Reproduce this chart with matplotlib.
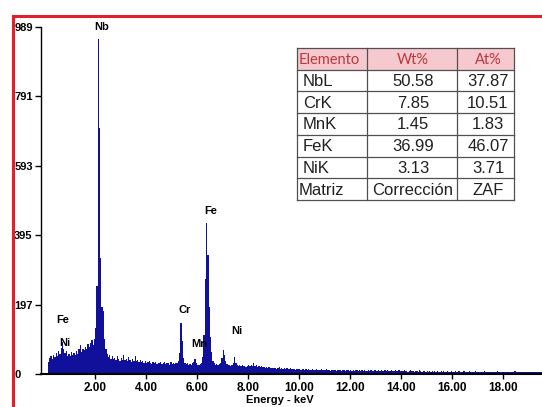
import numpy as np
import matplotlib
matplotlib.use('Agg')
import matplotlib.pyplot as plt
from matplotlib.lines import Line2D
from matplotlib.patches import Rectangle

plt.rcParams['font.family'] = ['Liberation Sans', 'DejaVu Sans']

# EDS spectrum, 0.05 keV channels starting at 0.15 keV
e_start = 0.15
e_width = 0.05
counts = [
    35, 45, 50, 42, 55, 48, 60, 52, 66, 58, 75, 90, 72, 60, 66, 52, 58,           # 0.15-0.95
    50, 62, 55, 60, 54, 66, 58, 70, 82, 64, 72, 68, 78, 70, 85, 76, 88, 96, 84, 100,  # 1
    130, 250, 955, 700, 330, 190, 180, 100, 70, 58, 48, 55, 44, 50, 42, 47, 40, 52, 43, 38,  # 2
    46, 41, 54, 39, 44, 37, 48, 40, 35, 43, 38, 50, 36, 41, 34, 39, 33, 37, 31, 36,  # 3
    30, 34, 38, 31, 29, 33, 30, 35, 28, 32, 30, 34, 29, 31, 35, 28, 32, 30, 27, 33,  # 4
    29, 31, 28, 32, 30, 36, 60, 145, 95, 45, 32, 28, 30, 26, 29, 27, 30, 34, 44, 30,  # 5
    27, 25, 28, 32, 48, 110, 270, 430, 340, 190, 105, 62, 38, 30, 27, 29, 25, 28, 32, 45,  # 6
    68, 55, 36, 28, 25, 27, 24, 26, 30, 48, 32, 26, 24, 27, 23, 25, 22, 24, 21, 23,  # 7
    25, 22, 27, 24, 30, 23, 26, 21, 24, 20, 22, 19, 21, 18, 20, 17, 19, 16, 18, 17,  # 8
    16, 18, 15, 17, 19, 14, 16, 15, 17, 14, 16, 13, 15, 17, 14, 13, 15, 12, 14, 13,  # 9
    14, 12, 13, 15, 11, 13, 12, 14, 11, 12, 13, 10, 12, 14, 11, 12, 10, 13, 11, 12,  # 10
    11, 13, 10, 12, 9, 11, 12, 10, 11, 9, 12, 10, 11, 9, 10, 12, 9, 10, 11, 9,  # 11
    10, 9, 11, 8, 10, 12, 9, 10, 8, 11, 9, 10, 8, 9, 11, 8, 10, 9, 8, 10,  # 12
    9, 8, 10, 9, 12, 8, 9, 11, 8, 10, 9, 8, 10, 9, 8, 11, 9, 8, 10, 8,  # 13
    9, 8, 10, 8, 9, 7, 8, 10, 8, 9, 7, 8, 9, 7, 10, 8, 7, 9, 8, 7,  # 14
    8, 7, 9, 7, 8, 6, 8, 7, 9, 7, 6, 8, 7, 8, 6, 7, 9, 7, 6, 8,  # 15
    7, 6, 8, 7, 6, 8, 7, 6, 7, 9, 6, 7, 6, 8, 7, 6, 7, 6, 8, 6,  # 16
    7, 6, 7, 5, 6, 8, 6, 7, 5, 6, 7, 6, 5, 7, 6, 8, 6, 5, 7, 6,  # 17
    6, 5, 7, 6, 5, 6, 7, 5, 6, 8, 5, 6, 5, 7, 6, 5, 6, 7, 5, 6,  # 18
    5, 6, 5, 7, 5, 6, 5, 6, 7, 5, 6, 5,  # 19
]

y_ticks = [0, 197, 395, 593, 791, 989]
x_ticks = [2, 4, 6, 8, 10, 12, 14, 16, 18]

peak_labels = ['Nb', 'Fe', 'Ni', 'Cr', 'Mn', 'Fe', 'Ni']
peak_label_e = [2.24, 0.75, 0.82, 5.53, 6.08, 6.55, 7.57]
peak_label_c = [989, 154, 88, 182, 85, 464, 122]

elementos = ['NbL', 'CrK', 'MnK', 'FeK', 'NiK', 'Matriz']
wt = ['50.58', '7.85', '1.45', '36.99', '3.13', 'Corrección']
at = ['37.87', '10.51', '1.83', '46.07', '3.71', 'ZAF']
header = ['Elemento', 'Wt%', 'At%']

W, H = 542, 407
fig = plt.figure(figsize=(W / 100, H / 100), dpi=100)
ax = fig.add_axes([41 / W, 1 - 374 / H, (W - 41) / W, 347 / H])

edges = e_start + e_width * np.arange(len(counts) + 1)
ax.stairs(counts, edges, fill=True, color='#10109a', baseline=0)

ax.set_xlim(-0.12, 19.53)
ax.set_ylim(0, 989)
ax.set_xticks(x_ticks)
ax.set_xticklabels(['%.2f' % v for v in x_ticks], fontsize=8.5, fontweight='bold')
ax.set_yticks(y_ticks)
ax.set_yticklabels([str(v) for v in y_ticks], fontsize=8, fontweight='bold')
ax.tick_params(axis='x', direction='out', length=3.6, width=1, pad=2)
ax.tick_params(axis='y', direction='out', length=4.3, width=1, pad=15)
for lbl in ax.get_yticklabels():
    lbl.set_horizontalalignment('left')
for s in ['top', 'right']:
    ax.spines[s].set_visible(False)
ax.spines['left'].set_linewidth(1)
ax.spines['bottom'].set_linewidth(1.5)
ax.set_xlabel('Energy - keV', fontsize=8, fontweight='bold')
ax.xaxis.set_label_coords((280 - 41) / 501, -0.06)

for t, e, c in zip(peak_labels, peak_label_e, peak_label_c):
    ax.text(e, c, t, fontsize=8, fontweight='bold', ha='center', va='center')

# overlay in pixel coordinates for the table and the red frame
ov = fig.add_axes([0, 0, 1, 1])
ov.set_xlim(0, W)
ov.set_ylim(H, 0)
ov.axis('off')
ov.patch.set_alpha(0)

cols = [297, 367, 457, 514]
top, rh = 48, 21.7
nrows = len(elementos) + 1
ov.add_patch(Rectangle((cols[0], top), cols[-1] - cols[0], rh, facecolor='#f6c9cf', edgecolor='none'))
ov.add_patch(Rectangle((cols[0], top + rh), cols[-1] - cols[0], rh * (nrows - 1), facecolor='white', edgecolor='none'))
for i in range(nrows + 1):
    ov.plot([cols[0], cols[-1]], [top + i * rh] * 2, color='#505050', lw=0.9)
for x in cols:
    ov.plot([x, x], [top, top + nrows * rh], color='#505050', lw=0.9)

hc = '#b8383c'
ov.text(299, top + rh / 2 + 1, header[0], fontsize=10.5, color=hc, family='Lato', ha='left', va='center')
ov.text(413, top + rh / 2 + 1, header[1], fontsize=10.5, color=hc, family='Lato', ha='center', va='center')
ov.text(488, top + rh / 2 + 1, header[2], fontsize=10.5, color=hc, family='Lato', ha='center', va='center')
for i, (el, w, a) in enumerate(zip(elementos, wt, at)):
    yc = top + (i + 1.5) * rh + 1
    x0 = 299 if el == 'Matriz' else 303
    ov.text(x0, yc, el, fontsize=12, color='#202020', ha='left', va='center')
    ov.text(413, yc, w, fontsize=12, color='#202020', ha='center', va='center')
    ov.text(488, yc, a, fontsize=12, color='#202020', ha='center', va='center')

ov.add_artist(Line2D([13, W], [16, 16], color='#e0202c', lw=2.2))
ov.add_artist(Line2D([13, 13], [16, H], color='#e0202c', lw=2.2))

fig.savefig('out.png', dpi=100)
